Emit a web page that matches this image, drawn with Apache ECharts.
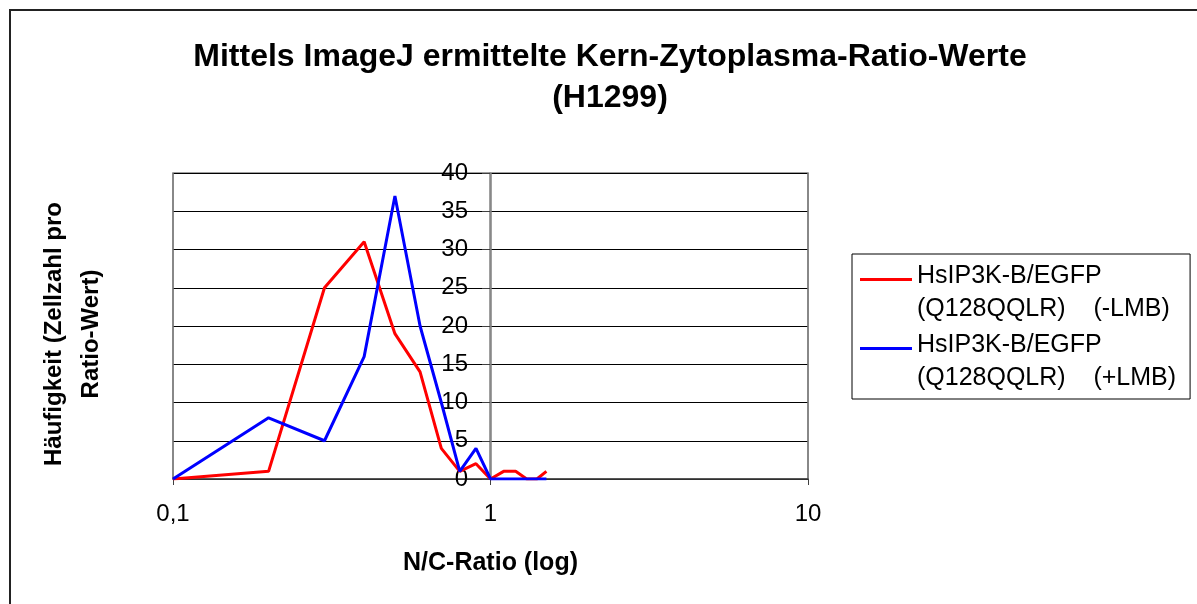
<!DOCTYPE html>
<html>
<head>
<meta charset="utf-8">
<script src="https://cdn.jsdelivr.net/npm/echarts@6/dist/echarts.min.js"></script>
<style>
  html, body { margin: 0; padding: 0; background: #fff; }
  #chart { width: 1197px; height: 604px; }
</style>
</head>
<body>
<div id="chart"></div>
<script>
// N/C-Ratio Klassen (log-Achse)
var ratios = [0.1, 0.2, 0.3, 0.4, 0.5, 0.6, 0.7, 0.8, 0.9, 1.0, 1.1, 1.2, 1.3, 1.4, 1.5];
var minusLMB = [0, 1, 25, 31, 19, 14, 4, 1, 2, 0, 1, 1, 0, 0, 1];
var plusLMB = [0, 8, 5, 16, 37, 20, 10, 1, 4, 0, 0, 0, 0, 0, 0];
var seriesNames = ['HsIP3K-B/EGFP\n(Q128QQLR)    (-LMB)', 'HsIP3K-B/EGFP\n(Q128QQLR)    (+LMB)'];
var yTicks = [0, 40, 5];

function pairs(ys) {
    return ratios.map(function (x, i) { return [x, ys[i]]; });
}

var chart = echarts.init(document.getElementById('chart'));
var font = 'Liberation Sans, Arial, sans-serif';

chart.setOption({
    animation: false,
    textStyle: { fontFamily: font },
    title: {
        text: 'Mittels ImageJ ermittelte Kern-Zytoplasma-Ratio-Werte\n(H1299)',
        left: 605,
        top: 32,
        textAlign: 'center',
        textStyle: { fontSize: 32, fontWeight: 'bold', color: '#000', lineHeight: 41 }
    },
    grid: {
        left: 173, top: 173, width: 635, height: 306,
        show: true, borderColor: '#808080', borderWidth: 1.5
    },
    legend: {
        orient: 'vertical',
        left: 852, top: 254,
        padding: [8, 14, 6, 8],
        borderColor: '#000', borderWidth: 1,
        itemGap: 7,
        itemWidth: 52, itemHeight: 30,
        icon: 'path://M0,0L52,0L52,3L0,3Z M0,30L0.01,30L0.01,30.01Z',
        textStyle: { fontSize: 25, color: '#000', lineHeight: 33, fontFamily: font, padding: [0, 0, -4, 0] },
        data: seriesNames
    },
    xAxis: {
        type: 'log',
        logBase: 10,
        min: 0.1,
        max: 10,
        name: 'N/C-Ratio (log)',
        nameLocation: 'middle',
        nameGap: 72,
        nameTextStyle: { fontSize: 25, fontWeight: 'bold', color: '#000' },
        axisLine: { lineStyle: { color: '#404040', width: 1.5 } },
        axisTick: { show: true, length: 6, lineStyle: { color: '#404040' } },
        minorTick: { show: false },
        axisLabel: {
            fontSize: 24, color: '#000', margin: 23,
            formatter: function (v) { return String(v).replace('.', ','); }
        },
        splitLine: { show: true, lineStyle: { color: '#808080', width: 1.5 } }
    },
    yAxis: {
        type: 'value',
        min: yTicks[0],
        max: yTicks[1],
        interval: yTicks[2],
        position: 'left',
        offset: -317,
        axisLine: { show: true, lineStyle: { color: '#808080', width: 1.5 } },
        axisTick: { show: true, length: 8, lineStyle: { color: '#404040' } },
        axisLabel: { fontSize: 24, color: '#000', margin: 22 },
        splitLine: { show: true, lineStyle: { color: '#000', width: 1 } }
    },
    graphic: [
        {
            type: 'rect',
            shape: { x: 10, y: 10, width: 1300, height: 700 },
            style: { fill: 'none', stroke: '#222', lineWidth: 2 },
            silent: true
        },
        {
            type: 'text',
            x: 73, y: 334,
            rotation: Math.PI / 2,
            style: {
                text: 'Häufigkeit (Zellzahl pro\nRatio-Wert)',
                font: 'bold 24px ' + font,
                fill: '#000',
                align: 'center',
                verticalAlign: 'middle',
                lineHeight: 37
            }
        }
    ],
    series: [
        {
            name: seriesNames[0],
            type: 'line',
            data: pairs(minusLMB),
            showSymbol: false,
            color: '#ff0000',
            lineStyle: { width: 3, color: '#ff0000' },
            z: 3
        },
        {
            name: seriesNames[1],
            type: 'line',
            data: pairs(plusLMB),
            showSymbol: false,
            color: '#0000ff',
            lineStyle: { width: 3, color: '#0000ff' },
            z: 4
        }
    ]
});
</script>
</body>
</html>
